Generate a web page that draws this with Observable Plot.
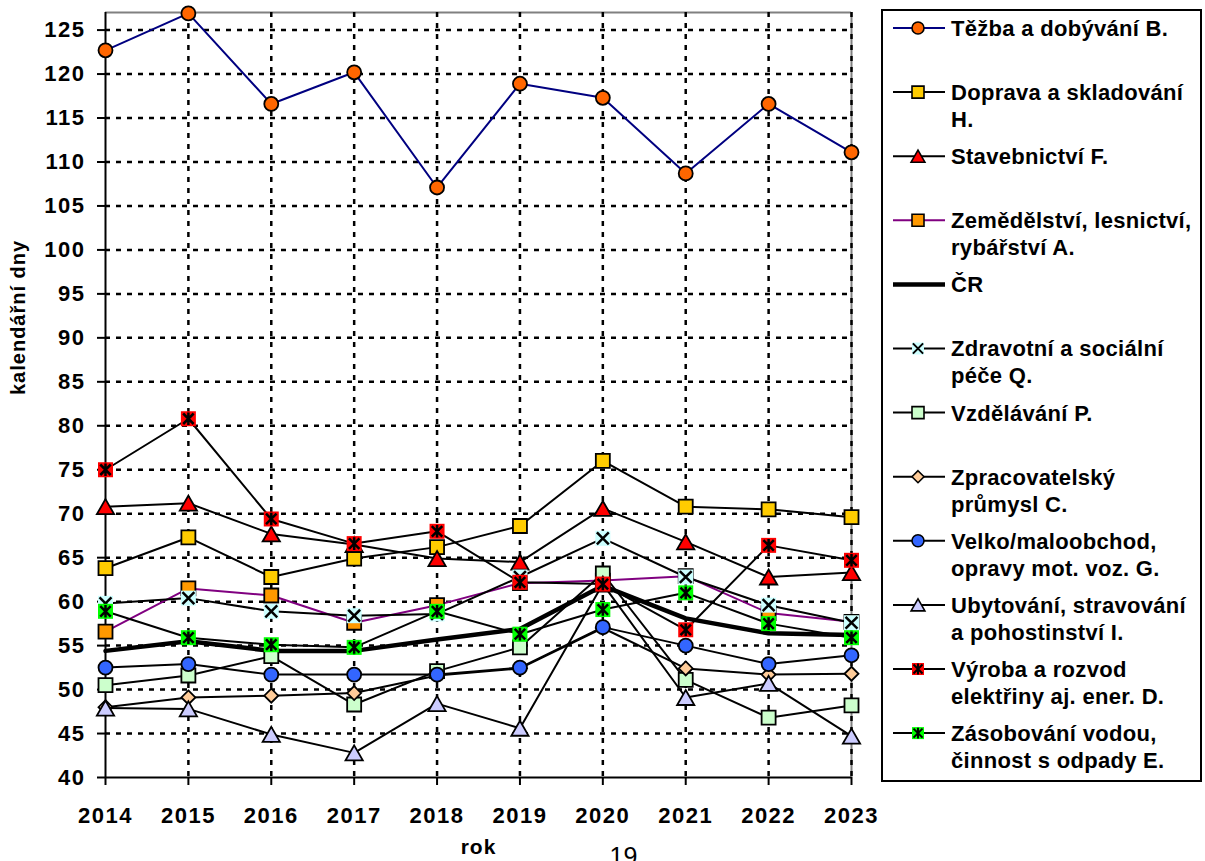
<!DOCTYPE html>
<html><head><meta charset="utf-8">
<script src="https://cdn.jsdelivr.net/npm/d3@7"></script>
<script src="https://cdn.jsdelivr.net/npm/@observablehq/plot@0.6"></script>
<style>
body{margin:0;background:#fff;font-family:"Liberation Sans",Arial,sans-serif;}
#wrap{position:relative;width:1205px;height:861px;overflow:hidden;background:#fff;}
#wrap svg{position:absolute;left:0;top:0;}
#wrap g[aria-label="y-axis tick label"] text,
#wrap g[aria-label="x-axis tick label"] text{letter-spacing:1.5px;}
#wrap .ttl{letter-spacing:1px;}
#wrap .lgtxt{letter-spacing:0.3px;}
</style></head><body><div id="wrap"></div>
<script>
// ---- data ----
const years = [2014, 2015, 2016, 2017, 2018, 2019, 2020, 2021, 2022, 2023];
const yTicks = [40, 45, 50, 55, 60, 65, 70, 75, 80, 85, 90, 95, 100, 105, 110, 115, 120, 125];
const tezba          = [122.7, 126.9, 116.6, 120.2, 107.1, 118.9, 117.3, 108.7, 116.6, 111.1];
const doprava        = [63.8, 67.3, 62.8, 64.9, 66.2, 68.6, 76.0, 70.8, 70.5, 69.6];
const stavebnictvi   = [70.8, 71.2, 67.7, 66.5, 64.9, 64.5, 70.6, 66.8, 62.8, 63.3];
const zemedelstvi    = [56.6, 61.5, 60.7, 57.6, 59.6, 62.1, 62.4, 62.9, 58.7, 57.7];
const cr             = [54.4, 55.5, 54.4, 54.4, 55.7, 56.9, 61.8, 58.1, 56.4, 56.2];
const zdravotni      = [59.8, 60.4, 58.9, 58.4, 58.6, 62.8, 67.2, 62.8, 59.6, 57.6];
const vzdelavani     = [50.5, 51.6, 53.8, 48.3, 52.1, 54.8, 63.2, 51.1, 46.8, 48.2];
const zpracovatelsky = [48.0, 49.1, 49.3, 49.6, 51.6, 52.4, 57.0, 52.4, 51.7, 51.8];
const velkoobchod    = [52.5, 52.9, 51.7, 51.7, 51.7, 52.5, 57.1, 55.0, 52.9, 53.9];
const ubytovani      = [47.9, 47.8, 44.9, 42.8, 48.4, 45.6, 62.0, 49.1, 50.7, 44.7];
const vyroba         = [75.0, 80.8, 69.4, 66.6, 68.0, 62.2, 62.0, 56.8, 66.4, 64.7];
const zasobovani     = [58.9, 55.9, 55.1, 54.8, 58.9, 56.3, 59.1, 61.0, 57.5, 55.9];

const seriesNames = [
  "Těžba a dobývání B.",
  "Doprava a skladování\nH.",
  "Stavebnictví F.",
  "Zemědělství, lesnictví,\nrybářství A.",
  "ČR",
  "Zdravotní a sociální\npéče Q.",
  "Vzdělávání P.",
  "Zpracovatelský\nprůmysl C.",
  "Velko/maloobchod,\nopravy mot. voz. G.",
  "Ubytování, stravování\na pohostinství I.",
  "Výroba a rozvod\nelektřiny aj. ener. D.",
  "Zásobování vodou,\nčinnost s odpady E."
];
const seriesValues = [tezba, doprava, stavebnictvi, zemedelstvi, cr, zdravotni, vzdelavani,
  zpracovatelsky, velkoobchod, ubytovani, vyroba, zasobovani];

// ---- styles ----
const styles = [
  {line: "#000080", lw: 2, symbol: "circle", fill: "#FF6600"},
  {line: "#000", lw: 2, symbol: "square", fill: "#FFCC00"},
  {line: "#000", lw: 2, symbol: "triangle", fill: "#FF0000"},
  {line: "#800080", lw: 2, symbol: "square", fill: "#FF9900"},
  {line: "#000", lw: 4.5, symbol: null},
  {line: "#000", lw: 2, symbol: "times", bg: "#CCFFFF"},
  {line: "#000", lw: 2, symbol: "square", fill: "#CCFFCC"},
  {line: "#000", lw: 2, symbol: "diamond", fill: "#FFCC99"},
  {line: "#000", lw: 2, symbol: "circle", fill: "#3366FF"},
  {line: "#000", lw: 2, symbol: "triangle", fill: "#CCCCFF"},
  {line: "#000", lw: 2, symbol: "star", bg: "#FF0000"},
  {line: "#000", lw: 2, symbol: "star", bg: "#00FF00"}
];

const R = s => Math.sqrt(s / Math.PI);
const sym = {
  circle: {draw(c, s) { const r = R(s); c.moveTo(r, 0); c.arc(0, 0, r, 0, 2 * Math.PI); }},
  square: {draw(c, s) { const r = R(s); c.rect(-r, -r, 2 * r, 2 * r); }},
  triangle: {draw(c, s) { const r = R(s); c.moveTo(0, -r); c.lineTo(1.15 * r, r); c.lineTo(-1.15 * r, r); c.closePath(); }},
  diamond: {draw(c, s) { const r = R(s); c.moveTo(0, -r); c.lineTo(r, 0); c.lineTo(0, r); c.lineTo(-r, 0); c.closePath(); }},
  times: {draw(c, s) { const r = R(s) * 0.85; c.moveTo(-r, -r); c.lineTo(r, r); c.moveTo(-r, r); c.lineTo(r, -r); }},
  star: {draw(c, s) { const r = R(s) * 0.75; c.moveTo(-r, -r); c.lineTo(r, r); c.moveTo(-r, r); c.lineTo(r, -r); c.moveTo(0, -r * 1.2); c.lineTo(0, r * 1.2); }}
};

const font = '"Liberation Sans", Arial, sans-serif';
const marks = [];
// plot-area border (grey, top and right)
marks.push(Plot.ruleY([127], {stroke: "#808080", strokeWidth: 2}));
marks.push(Plot.ruleX([2023], {stroke: "#808080", strokeWidth: 2}));
// dotted grid
marks.push(Plot.ruleY(yTicks.filter(d => d > 40), {stroke: "#000", strokeWidth: 2.5, strokeDasharray: "5,6"}));
marks.push(Plot.ruleX(years.filter(d => d > 2014), {stroke: "#000", strokeWidth: 2.5, strokeDasharray: "5,6"}));
// axes
marks.push(Plot.axisY({ticks: yTicks, tickSize: 8, tickPadding: 12, tickFormat: d => String(d),
  fontSize: 22, fontWeight: "bold", label: null, strokeWidth: 2}));
marks.push(Plot.axisX({ticks: years, tickSize: 8, tickPadding: 22, tickFormat: d => String(d),
  fontSize: 22, fontWeight: "bold", label: null, strokeWidth: 2}));
marks.push(Plot.ruleX([2014], {stroke: "#000", strokeWidth: 2}));
marks.push(Plot.ruleY([40], {stroke: "#000", strokeWidth: 2}));
// titles
marks.push(Plot.text(["kalendářní dny"], {frameAnchor: "left", dx: -87, rotate: -90, fontSize: 20, fontWeight: "bold", className: "ttl"}));
marks.push(Plot.text(["rok"], {frameAnchor: "bottom", dy: 70, lineAnchor: "middle", fontSize: 21, fontWeight: "bold", className: "ttl"}));
marks.push(Plot.text(["19"], {frameAnchor: "bottom", dx: 145, dy: 70, lineAnchor: "top", fontSize: 25}));

// series
seriesValues.forEach((vals, i) => {
  const st = styles[i];
  const data = years.map((y, j) => ({year: y, value: vals[j]}));
  marks.push(Plot.line(data, {x: "year", y: "value", stroke: st.line, strokeWidth: st.lw, strokeLinejoin: "round"}));
  if (st.bg) marks.push(Plot.dot(data, {x: "year", y: "value", symbol: sym.square, r: 7.5, fill: st.bg, stroke: "none"}));
  if (st.symbol) {
    const line = st.symbol === "times" || st.symbol === "star";
    marks.push(Plot.dot(data, {x: "year", y: "value", symbol: sym[st.symbol],
      r: st.symbol === "triangle" ? 7.5 : 7,
      fill: line ? "none" : st.fill, stroke: "#000", strokeWidth: line ? 2.5 : 1.8}));
  }
});

const chart = Plot.plot({
  width: 1205, height: 861,
  marginLeft: 105, marginRight: 354, marginTop: 12, marginBottom: 84,
  x: {domain: [2014, 2023]},
  y: {domain: [40, 127]},
  style: {fontFamily: font, color: "#000", background: "transparent", overflow: "visible"},
  marks
});
document.getElementById("wrap").appendChild(chart);

// legend
const lg = d3.select("#wrap").append("svg").attr("width", 1205).attr("height", 861)
  .style("pointer-events", "none");
lg.append("rect").attr("x", 882).attr("y", 10).attr("width", 319).attr("height", 771)
  .attr("fill", "#fff").attr("stroke", "#000").attr("stroke-width", 2);
seriesNames.forEach((name, i) => {
  const st = styles[i];
  const cy = 28 + i * 64.1;
  const g = lg.append("g");
  g.append("line").attr("x1", 893).attr("x2", 945).attr("y1", cy).attr("y2", cy)
    .attr("stroke", st.line).attr("stroke-width", st.lw === 2 ? 2 : 4.5);
  if (st.bg) g.append("path").attr("transform", `translate(918,${cy})`)
    .attr("d", d3.symbol(sym.square, Math.PI * 36)()).attr("fill", st.bg);
  if (st.symbol) {
    const line = st.symbol === "times" || st.symbol === "star";
    g.append("path").attr("transform", `translate(918,${cy})`)
      .attr("d", d3.symbol(sym[st.symbol], Math.PI * 36)())
      .attr("fill", line ? "none" : st.fill).attr("stroke", "#000").attr("stroke-width", line ? 2 : 1.6);
  }
  const t = g.append("text").attr("class", "lgtxt").attr("x", 951).attr("y", cy).attr("font-family", font)
    .attr("font-size", 22).attr("font-weight", "bold").attr("fill", "#000");
  name.split("\n").forEach((ln, k) => {
    t.append("tspan").attr("x", 951).attr("y", cy + k * 27).attr("dy", "0.36em").text(ln);
  });
});
</script></body></html>
